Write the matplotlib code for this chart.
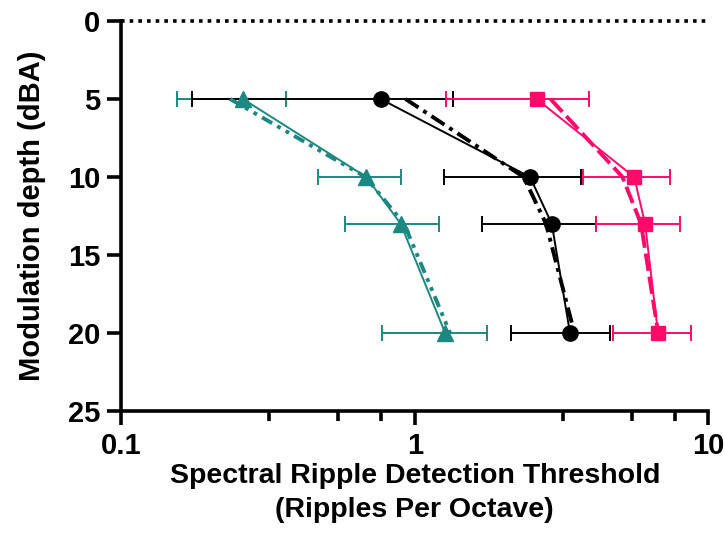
import numpy as np
import matplotlib.pyplot as plt
from matplotlib.ticker import FixedLocator, NullFormatter

plt.rcParams['font.family'] = ['Liberation Sans', 'DejaVu Sans']
plt.rcParams['font.weight'] = 'bold'

depth = [5, 10, 13, 20]

# mean thresholds and SD (ripples per octave)
teal_mean = [0.26, 0.684, 0.896, 1.27]
teal_sd = [0.105, 0.216, 0.315, 0.494]
black_mean = [0.765, 2.47, 2.93, 3.38]
black_sd = [0.59, 1.21, 1.23, 1.25]
pink_mean = [2.60, 5.59, 6.09, 6.74]
pink_sd = [1.32, 1.84, 1.93, 2.0]

# fitted curves
teal_fit = [0.235, 0.68, 0.92, 1.32]
black_fit = [0.93, 2.35, 2.8, 3.5]
pink_fit = [2.9, 5.1, 5.9, 6.75]

teal = '#1b8882'
pink = '#ff0a6a'
black = '#000000'

fig, ax = plt.subplots(figsize=(7.25, 5.51), dpi=100)
fig.subplots_adjust(left=0.167, right=0.977, top=0.962, bottom=0.254)

ax.plot([0.1, 10], [0, 0], color='black', linestyle=(0, (1.0, 1.4)), lw=2.6, clip_on=False)

for mean, sd, fit, col, mk, ms, fls in [
        (teal_mean, teal_sd, teal_fit, teal, '^', 11, (0, (3, 1.5, 1, 1.5, 1, 1.5))),
        (black_mean, black_sd, black_fit, black, 'o', 11, (0, (4, 1.5, 1, 1.5))),
        (pink_mean, pink_sd, pink_fit, pink, 's', 10, (0, (4.5, 1.5)))]:
    ax.errorbar(mean, depth, xerr=sd, fmt='none', ecolor=col, elinewidth=1.4,
                capsize=6, capthick=1.4, zorder=2)
    ax.plot(fit, depth, color=col, linestyle=fls, lw=2.8, zorder=3)
    ax.plot(mean, depth, color=col, lw=1.4, marker=mk, markersize=ms, zorder=4)

ax.set_xscale('log')
ax.set_xlim(0.1, 10)
ax.set_ylim(25, 0)
ax.set_xticks([0.1, 1, 10])
ax.set_xticklabels(['0.1', '1', '10'])
ax.xaxis.set_minor_locator(FixedLocator([0.32, 0.55, 0.77, 3.2, 5.5, 7.7]))
ax.xaxis.set_minor_formatter(NullFormatter())
ax.set_yticks([0, 5, 10, 15, 20, 25])

for s in ['top', 'right']:
    ax.spines[s].set_visible(False)
for s in ['left', 'bottom']:
    ax.spines[s].set_linewidth(2.6)
ax.tick_params(axis='both', which='major', width=2.6, length=10, labelsize=21, direction='out', pad=5)
ax.tick_params(axis='x', which='minor', width=2.6, length=7, direction='out')

ax.set_xlabel('Spectral Ripple Detection Threshold\n(Ripples Per Octave)', fontsize=20.5,
              fontweight='bold', labelpad=2, linespacing=1.4)
ax.set_ylabel('Modulation depth (dBA)', fontsize=21, fontweight='bold', labelpad=16)

fig.savefig('out.png', dpi=100)
